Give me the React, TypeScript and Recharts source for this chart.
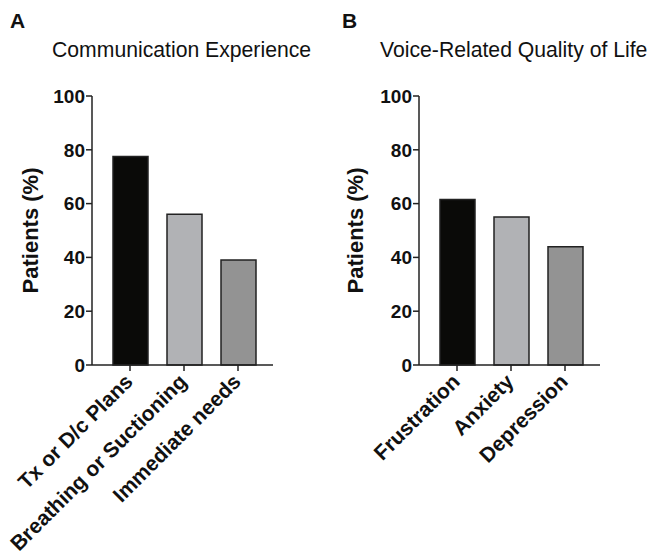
import React from 'react'
import { BarChart, Bar, XAxis, YAxis, Cell } from 'recharts'

const commCategories = ['Tx or D/c Plans', 'Breathing or Suctioning', 'Immediate needs']
const commValues = [77.5, 56, 39]

const qolCategories = ['Frustration', 'Anxiety', 'Depression']
const qolValues = [61.5, 55, 44]

const barColors = ['#0a0a08', '#b1b2b5', '#939393']
const yTicks = [0, 20, 40, 60, 80, 100]

const FONT = '"Liberation Sans", Arial, Helvetica, sans-serif'
const AXIS = '#222'

const commData = commCategories.map((name, i) => ({ name, value: commValues[i] }))
const qolData = qolCategories.map((name, i) => ({ name, value: qolValues[i] }))

function AngledTick(props: any) {
  const { x, y, payload } = props
  return (
    <g transform={`translate(${x + 4},${y + 10})`}>
      <text
        x={0}
        y={0}
        textAnchor='end'
        transform='rotate(-45)'
        fontFamily={FONT}
        fontWeight='bold'
        fontSize={21}
        fill='#111'
      >
        {payload.value}
      </text>
    </g>
  )
}

type PanelProps = {
  data: { name: string; value: number }[]
  width: number
  yAxisWidth: number
  labelOffset: number
  right: number
}

function Panel({ data, width, yAxisWidth, labelOffset, right }: PanelProps) {
  return (
    <BarChart
      width={width}
      height={556}
      data={data}
      margin={{ top: 96, right, left: 0, bottom: 0 }}
      barSize={35}
    >
      <XAxis
        dataKey='name'
        interval={0}
        height={191}
        padding={{ left: 11, right: 8 }}
        tick={<AngledTick />}
        tickSize={6}
        stroke={AXIS}
        strokeWidth={1.5}
        tickLine={{ stroke: AXIS, strokeWidth: 1.5 }}
      />
      <YAxis
        domain={[0, 100]}
        ticks={yTicks}
        width={yAxisWidth}
        tickSize={6}
        tickMargin={1}
        stroke={AXIS}
        strokeWidth={1.5}
        tick={{ fill: '#111', fontSize: 19, fontWeight: 'bold', fontFamily: FONT }}
        label={{
          value: 'Patients (%)',
          angle: -90,
          position: 'insideLeft',
          offset: labelOffset,
          style: {
            textAnchor: 'middle',
            fontSize: 22,
            fontWeight: 'bold',
            fontFamily: FONT,
            fill: '#111',
          },
        }}
      />
      <Bar dataKey='value' stroke='#222' strokeWidth={1.5} isAnimationActive={false}>
        {data.map((d, i) => (
          <Cell key={d.name} fill={barColors[i]} />
        ))}
      </Bar>
    </BarChart>
  )
}

export default function App() {
  return (
    <div
      style={{
        position: 'absolute',
        left: 0,
        top: 0,
        width: 649,
        height: 556,
        background: '#fff',
      }}
    >
      <div style={{ position: 'absolute', left: 0, top: 0 }}>
        <Panel data={commData} width={330} yAxisWidth={92} labelOffset={30} right={57} />
      </div>
      <div style={{ position: 'absolute', left: 330, top: 0 }}>
        <Panel data={qolData} width={319} yAxisWidth={89} labelOffset={25} right={49} />
      </div>
      <svg
        width={649}
        height={556}
        style={{ position: 'absolute', left: 0, top: 0, pointerEvents: 'none' }}
      >
        <text x={10} y={28} fontFamily={FONT} fontWeight='bold' fontSize={21} fill='#111'>
          A
        </text>
        <text x={52} y={57} fontFamily={FONT} fontSize={21.2} fill='#111'>
          Communication Experience
        </text>
        <text x={342} y={28} fontFamily={FONT} fontWeight='bold' fontSize={21} fill='#111'>
          B
        </text>
        <text x={380} y={57} fontFamily={FONT} fontSize={21.2} fill='#111'>
          Voice-Related Quality of Life
        </text>
      </svg>
    </div>
  )
}
